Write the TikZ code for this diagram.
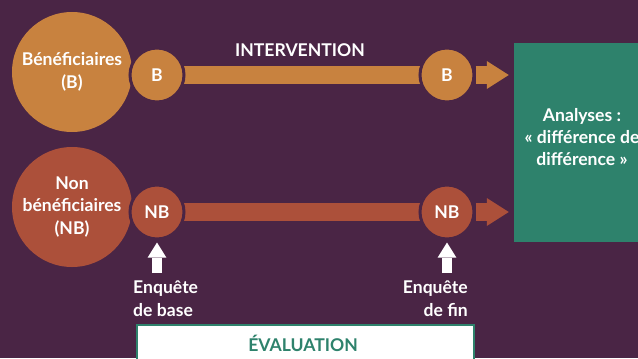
\documentclass[tikz,border=0pt]{standalone}
\usepackage{fontspec}
\setmainfont{Lato}
\usetikzlibrary{arrows.meta, positioning, backgrounds}
\definecolor{FOND}{HTML}{4A2545}
\definecolor{BEN}{HTML}{C8823F}
\definecolor{NBEN}{HTML}{AC503A}
\definecolor{ANA}{HTML}{2E826C}
\tikzset{
  GRAND/.style={% Style for the big group circles
      circle, inner sep=0pt,
      minimum size=3.6cm,
      align=center,
      text=white,
      font=\bfseries\fontsize{15}{19.5}\selectfont,
  },
  PETIT/.style={% Style for the small measure circles
      circle, inner sep=0pt,
      minimum size=1.62cm,
      draw=FOND, line width=0.09cm,
      text=white,
      font=\bfseries\fontsize{15}{18}\selectfont,
  },
  TEXTE/.style={% plain white labels
      inner sep=0pt,
      text=white,
      font=\bfseries\fontsize{15}{19}\selectfont,
  },
  BARRE/.style={line width=0.54cm},
  FLECHE/.style={
      line width=0.54cm,
      -{Triangle[length=0.66cm,width=0.84cm,line width=0pt]},
  },
  MONTE/.style={
      white, line width=0.3cm,
      -{Triangle[length=0.45cm,width=0.56cm,line width=0pt]},
      shorten >=0.06cm,
  },
}
\begin{document}
\begin{tikzpicture}[x=0.03cm, y=-0.03cm]
  \begin{pgfonlayer}{background}
    \fill[FOND] (0,0) rectangle (638,358);
  \end{pgfonlayer}
  \useasboundingbox (0,0) rectangle (638,358);
  \clip (0,0) rectangle (638,358);

  % Analyses box
  \node[fill=ANA, minimum width=4.08cm, minimum height=5.97cm, inner sep=0pt] (ANALYSE) at (582,142.5) {};
  \node[TEXTE, align=center, font=\bfseries\fontsize{15}{19}\selectfont] (txtANA) at (582,137)
    {Analyses :\\«~différence de\\différence~»};

  \node[TEXTE] (INTER) at (300,50) {INTERVENTION};

  % one row per group: name / colour / y of row / y of big circle / labels
  \foreach \nom/\coul/\y/\yg/\grand in {B/BEN/75/72/{Bénéficiaires\\(B)},
                                         NB/NBEN/212/207/{Non\\bénéficiaires\\(NB)}} {%
    \node[GRAND, fill=\coul] (grand\nom) at (72,\yg) {\grand};
    \node[PETIT, fill=\coul] (debut\nom) at (157,\y) {\nom};
    \node[PETIT, fill=\coul] (fin\nom) at (447,\y) {\nom};
    \begin{pgfonlayer}{background}
      \draw[BARRE, \coul] (debut\nom.center) -- (fin\nom.center);
    \end{pgfonlayer}
    \draw[FLECHE, \coul, shorten >=0.15cm] (fin\nom.east) -- (fin\nom.east -| ANALYSE.west);
  }

  % survey labels
  \node[TEXTE, align=left, anchor=north west] (enqBase) at (133,281) {Enquête\\de base};
  \node[TEXTE, align=right, anchor=north east] (enqFin) at (468,281) {Enquête\\de fin};
  \coordinate (piedBase) at (157,273);
  \coordinate (piedFin) at (447,273);
  \draw[MONTE] (piedBase) -- (debutNB);
  \draw[MONTE] (piedFin) -- (finNB);

  % evaluation box
  \node[fill=white, draw=ANA, line width=0.06cm, minimum width=10.1cm, minimum height=1.6cm,
        anchor=north west, inner sep=0pt] (EVAL) at (136,324) {};
  \node[TEXTE, text=ANA] (txtEVAL) at (303,343) {ÉVALUATION};
\end{tikzpicture}
\end{document}
